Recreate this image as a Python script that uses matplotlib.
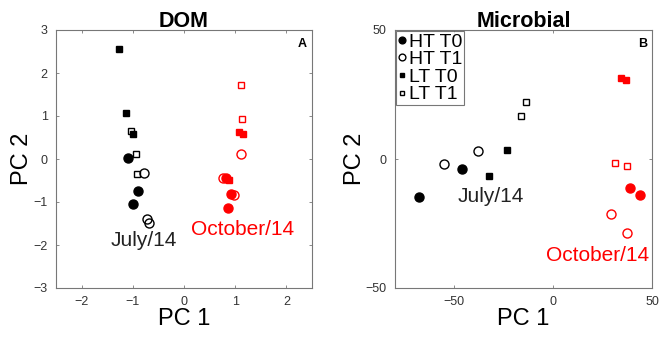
import matplotlib
matplotlib.use("Agg")
import matplotlib.pyplot as plt

plt.rcParams['font.family'] = ['Liberation Sans', 'DejaVu Sans']

# DOM panel (A)
dom_ht_t0_x = [-1.09, -0.89, -1.00]
dom_ht_t0_y = [0.02, -0.75, -1.04]
dom_ht_t1_x = [-0.78, -0.73, -0.68]
dom_ht_t1_y = [-0.33, -1.39, -1.48]
dom_lt_t0_x = [-1.26, -1.14, -0.99]
dom_lt_t0_y = [2.56, 1.08, 0.58]
dom_lt_t1_x = [-1.04, -0.93, -0.91]
dom_lt_t1_y = [0.65, 0.12, -0.36]

dom_oct_ht_t0_x = [0.83, 0.91, 0.85]
dom_oct_ht_t0_y = [-0.44, -0.81, -1.15]
dom_oct_ht_t1_x = [1.11, 0.77, 0.98]
dom_oct_ht_t1_y = [0.12, -0.45, -0.83]
dom_oct_lt_t0_x = [1.07, 1.16, 0.88]
dom_oct_lt_t0_y = [0.63, 0.58, -0.48]
dom_oct_lt_t1_x = [1.12, 1.14]
dom_oct_lt_t1_y = [1.73, 0.94]

# Microbial panel (B)
mic_ht_t0_x = [-68.1, -46.2]
mic_ht_t0_y = [-14.8, -3.7]
mic_ht_t1_x = [-55.1, -37.8]
mic_ht_t1_y = [-1.8, 3.2]
mic_lt_t0_x = [-32.7, -23.3]
mic_lt_t0_y = [-6.7, 3.6]
mic_lt_t1_x = [-16.5, -13.8]
mic_lt_t1_y = [16.5, 21.9]

mic_oct_ht_t0_x = [39.0, 43.8]
mic_oct_ht_t0_y = [-11.2, -14.1]
mic_oct_ht_t1_x = [29.5, 37.4]
mic_oct_ht_t1_y = [-21.2, -28.6]
mic_oct_lt_t0_x = [34.1, 36.6]
mic_oct_lt_t0_y = [31.5, 30.8]
mic_oct_lt_t1_x = [31.4, 37.6]
mic_oct_lt_t1_y = [-1.4, -2.8]

legend_labels = ['HT T0', 'HT T1', 'LT T0', 'LT T1']


def draw_group(ax, xs, ys, color, marker, filled, label=None):
    size = 6.5 if marker == 'o' else 4.5
    ax.plot(xs, ys, linestyle='none', marker=marker, markersize=size,
            markerfacecolor=color if filled else 'none', markeredgecolor=color,
            markeredgewidth=1.0, label=label)


def style_axes(ax):
    for s in ax.spines.values():
        s.set_color('#777777')
        s.set_linewidth(0.8)
    ax.tick_params(direction='in', top=True, right=True, length=2.5, width=0.6,
                   color='#777777', labelcolor='#333333', labelsize=9, pad=6)
    ax.set_xlabel('PC 1', fontsize=17, labelpad=0)
    ax.set_ylabel('PC 2', fontsize=17, labelpad=0)


fig = plt.figure(figsize=(6.6, 3.37), dpi=100)
ax1 = fig.add_axes([56 / 660, 49 / 337, 256 / 660, 258 / 337])
ax2 = fig.add_axes([395 / 660, 49 / 337, 257 / 660, 258 / 337])

# panel A
draw_group(ax1, dom_ht_t0_x, dom_ht_t0_y, 'black', 'o', True)
draw_group(ax1, dom_ht_t1_x, dom_ht_t1_y, 'black', 'o', False)
draw_group(ax1, dom_lt_t0_x, dom_lt_t0_y, 'black', 's', True)
draw_group(ax1, dom_lt_t1_x, dom_lt_t1_y, 'black', 's', False)
draw_group(ax1, dom_oct_ht_t0_x, dom_oct_ht_t0_y, 'red', 'o', True)
draw_group(ax1, dom_oct_ht_t1_x, dom_oct_ht_t1_y, 'red', 'o', False)
draw_group(ax1, dom_oct_lt_t0_x, dom_oct_lt_t0_y, 'red', 's', True)
draw_group(ax1, dom_oct_lt_t1_x, dom_oct_lt_t1_y, 'red', 's', False)
ax1.set_xlim(-2.5, 2.5)
ax1.set_ylim(-3, 3)
ax1.set_xticks([-2, -1, 0, 1, 2])
ax1.set_yticks([-3, -2, -1, 0, 1, 2, 3])
ax1.text(-0.79, -1.89, 'July/14', fontsize=15, color='#222222', ha='center', va='center')
ax1.text(1.14, -1.65, 'October/14', fontsize=15, color='red', ha='center', va='center')
ax1.text(0.98, 0.97, 'A', transform=ax1.transAxes, fontsize=9, fontweight='bold',
         ha='right', va='top')
ax1.set_title('DOM', fontsize=15.5, fontweight='bold', pad=2)
style_axes(ax1)

# panel B
draw_group(ax2, mic_ht_t0_x, mic_ht_t0_y, 'black', 'o', True, legend_labels[0])
draw_group(ax2, mic_ht_t1_x, mic_ht_t1_y, 'black', 'o', False, legend_labels[1])
draw_group(ax2, mic_lt_t0_x, mic_lt_t0_y, 'black', 's', True, legend_labels[2])
draw_group(ax2, mic_lt_t1_x, mic_lt_t1_y, 'black', 's', False, legend_labels[3])
draw_group(ax2, mic_oct_ht_t0_x, mic_oct_ht_t0_y, 'red', 'o', True)
draw_group(ax2, mic_oct_ht_t1_x, mic_oct_ht_t1_y, 'red', 'o', False)
draw_group(ax2, mic_oct_lt_t0_x, mic_oct_lt_t0_y, 'red', 's', True)
draw_group(ax2, mic_oct_lt_t1_x, mic_oct_lt_t1_y, 'red', 's', False)
ax2.set_xlim(-80, 50)
ax2.set_ylim(-50, 50)
ax2.set_xticks([-50, 0, 50])
ax2.set_yticks([-50, 0, 50])
ax2.text(-31.5, -14.7, 'July/14', fontsize=15, color='#222222', ha='center', va='center')
ax2.text(22.4, -37.4, 'October/14', fontsize=15, color='red', ha='center', va='center')
ax2.text(0.98, 0.97, 'B', transform=ax2.transAxes, fontsize=9, fontweight='bold',
         ha='right', va='top')
ax2.set_title('Microbial', fontsize=15.5, fontweight='bold', pad=2)
style_axes(ax2)

leg = ax2.legend(loc='upper left', fontsize=14, handlelength=0.4, handletextpad=0.15,
                 borderpad=0.1, labelspacing=0, borderaxespad=0.05, frameon=True,
                 fancybox=False, markerscale=0.75)
leg.get_frame().set_edgecolor('#555555')
leg.get_frame().set_linewidth(0.8)

fig.savefig('out.png', dpi=100)
